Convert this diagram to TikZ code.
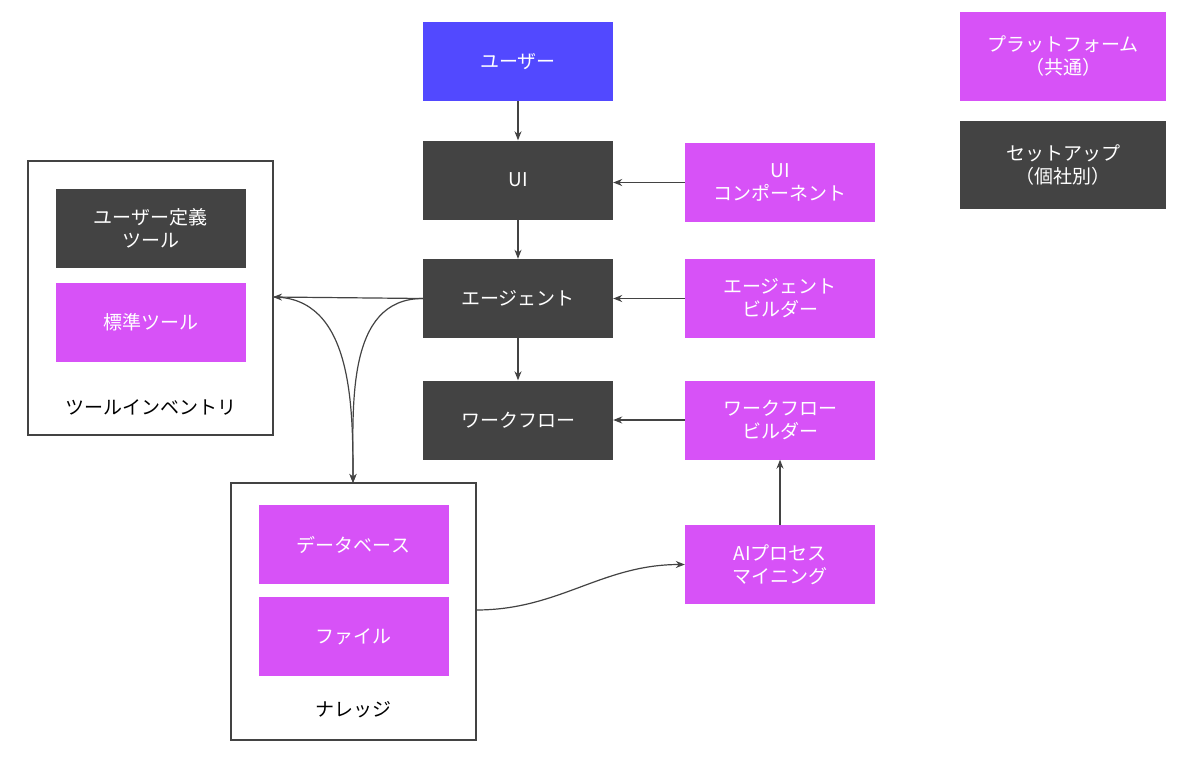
\documentclass[tikz,border=0pt]{standalone}
\usepackage{fontspec}
\setmainfont{Noto Sans CJK JP}
\usetikzlibrary{arrows.meta}
\definecolor{dk}{HTML}{434343}
\definecolor{mg}{HTML}{D752F7}
\definecolor{bl}{HTML}{5249FF}
\begin{document}
\begin{tikzpicture}[x=1pt,y=-1pt,
 bx/.style={minimum width=190pt,minimum height=79pt,inner sep=0pt,align=center,text=white,font=\fontsize{19}{23}\selectfont},
 d/.style={bx,fill=dk}, m/.style={bx,fill=mg}, b/.style={bx,fill=bl},
 ct/.style={draw=dk,line width=1.2pt,fill=white},
 lb/.style={font=\fontsize{19}{23}\selectfont,text=black},
 ar/.style={-{Stealth[length=9pt,width=7pt]},line width=1.2pt,draw=dk}]
\useasboundingbox (0,0) rectangle (1200,758);
\draw[ct] (28,161) rectangle (273,435);
\draw[ct] (231,483) rectangle (476,740);
\node[coordinate] (tool) at (273,297) {};
\node[coordinate] (kntop) at (353,483) {};
\node[coordinate] (knr) at (476,610) {};
\node[b] (user) at (518,61.5) {ユーザー};
\node[d] (ui) at (518,180) {UI};
\node[d] (ag) at (518,298.5) {エージェント};
\node[d] (wf) at (518,420) {ワークフロー};
\node[m] (uic) at (780,182.5) {UI\\コンポーネント};
\node[m] (agb) at (780,298.5) {エージェント\\ビルダー};
\node[m] (wfb) at (780,420) {ワークフロー\\ビルダー};
\node[m] (ai) at (780,564.5) {AIプロセス\\マイニング};
\node[m,minimum width=206pt,minimum height=89pt] (lg1) at (1063,56.5) {プラットフォーム\\（共通）};
\node[d,minimum width=206pt,minimum height=88pt] (lg2) at (1063,165) {セットアップ\\（個社別）};
\node[d] (udt) at (150.5,228) {ユーザー定義\\ツール};
\node[m] (std) at (150.5,322.5) {標準ツール};
\node[lb] (tl) at (150.5,407) {ツールインベントリ};
\node[m] (db) at (353.5,544.5) {データベース};
\node[m] (fl) at (353.5,636.5) {ファイル};
\node[lb] (kl) at (353.5,710) {ナレッジ};
\draw[ar] (user) -- (ui);
\draw[ar] (ui) -- (ag);
\draw[ar] (ag) -- (wf);
\draw[ar] (uic) -- (ui.east|-uic);
\draw[ar] (agb) -- (ag);
\draw[ar] (wfb) -- (wf);
\draw[ar] (ai) -- (wfb);
\draw[ar] (ag.west) -- (tool);
\draw[ar] (ag.west) to[out=180,in=90] (kntop);
\draw[ar] (tool) to[out=0,in=90] (kntop);
\draw[ar] (knr) to[out=0,in=180] (ai.west);
\end{tikzpicture}
\end{document}
